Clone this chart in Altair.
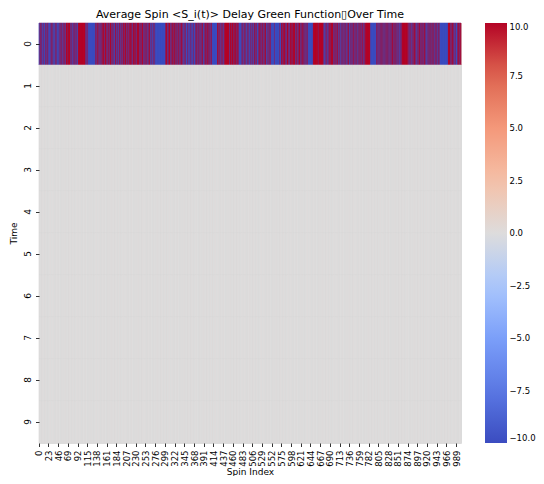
import altair as alt
import pandas as pd

title_text = "Average Spin <S_i(t)> Delay Green Function\u25afOver Time"

time_labels = [0, 1, 2, 3, 4, 5, 6, 7, 8, 9]

# Spin state at time 0, read (approximately) left to right: '+' = +10, '-' = -10
spin_row0_chunks = [
    "-+--+ -+--- +-+-- -+--+ +-+--",
    "--+-- +-+-- -+--+ -+-+- ---+-",
    "+-+-+ --+-+ -+--+ ++++- +++++",
    "-+-+- -+-++ -+-+- +--++ +++++",
    "+++++ +++++ +-+-+ -+--- -----",
    "----- ----+ -+-++ -+-+- +-++-",
    "++-++ +-+++ -++-+ +-+-+ ++-++",
    "-+-+- -++-- +-+-- ++-+- -+--+",
    "++-+- +++-+ +-+-+ +-++- ++-++",
    "+-+++ -+-++ +++-+ -+-+- +++-+",
    "-+-+- +-+-- +-++- -+-+- -+-+-",
    "+---- ----- ----- ----- -----",
    "+-+++ -++-+ ++-+- +++-+ -++-+",
    "-+-+- ++-+- -+-++ -+--+ -+-+-",
    "--+-- -+--- +--+- --+-- -+--+",
    "+-++- +-+-+ -+-++ --+-+ +-+-+",
    "+-+-+ -+-++ ----- ----- ---++",
    "-+-+- +--+- +-+-- +++++ +++++",
    "++-++ +-+++ ++-++ -+++- ++-+-",
    "----- -+-+- -+-++ -+--+ -+-+-",
    "--+-- +-+-- ++--+ -+--- +-++-",
    "+-+-+ +--+- +-++- -+-+- +-+-+",
    "----- ---+- ----- ----- -+---",
    "+++-+ +-+++ -+-++ ++-+- +++-+",
    "++-++ +++-+ -++-+ +-+++ -++-+",
    "+-+-+ -+-+- +-+-- ----- -----",
    "+++++ +++++ ++-++ +++++ +++++",
    "-+--- +-+-- +-+-+ ++-++ +++-+",
    "-+-+- +-++- -+-+- -+-++ -+-+-",
    "+-+-- +-+-+ +--+- +-+-+ -++-+",
    "-+-+- -+-+- +-+-+ -++-- +-+-+",
    "+++++ +++++ +---- ----- -----",
    "+-+-+ -+-+- +-+-+ -+-+- +-+-+",
    "-+-+- +-+-+ -+-++ -+-+- +-+-+",
    "-+-+- -+-+- +++++ +++++ +++++",
    "-+-+- -+--+ -+-+- ++-+- -+-+-",
    "+-++- +-+-+ --+-+ +-+-- +-++-",
    "-+-+- -+-+- +-+-- +-+-+ --+-+",
    "----- ----- ----- ----- +++++",
    "-+-+- ++-+- -+-+- --+-+ +-+-+",
]
spin_row0 = [10.0 if ch == "+" else -10.0
             for chunk in spin_row0_chunks for ch in chunk if ch in "+-"]
n_spins = len(spin_row0)

# Times 1..9: average spin reads as 0 everywhere
later_row_value = 0.0

x_tick_values = [0, 23, 46, 69, 92, 115, 138, 161, 184, 207, 230, 253, 276, 299,
                 322, 345, 368, 391, 414, 437, 460, 483, 506, 529, 552, 575, 598,
                 621, 644, 667, 690, 713, 736, 759, 782, 805, 828, 851, 874, 897,
                 920, 943, 966, 989]

cbar_ticks = [-10.0, -7.5, -5.0, -2.5, 0.0, 2.5, 5.0, 7.5, 10.0]
cmap_colors = ["#3b4cc0", "#5a78e4", "#7b9ff9", "#aac7fd", "#dddcdc",
               "#f5c0a7", "#f4987a", "#de654f", "#b40426"]

rows = []
for t in time_labels:
    for i in range(n_spins):
        v = spin_row0[i] if t == 0 else later_row_value
        # 'edge' = value in units of 10, used only to paint each cell's outline
        rows.append({"spin": i, "time": t, "value": v, "edge": v / 10.0})
df = pd.DataFrame(rows)

FONT = "DejaVu Sans"

cscale = alt.Scale(domain=cbar_ticks, range=cmap_colors, type="linear",
                   clamp=True, interpolate="rgb")
sscale = alt.Scale(domain=[c / 10.0 for c in cbar_ticks], range=cmap_colors,
                   type="linear", clamp=True, interpolate="rgb")

chart = alt.Chart(df).mark_rect(strokeWidth=0.6).encode(
    x=alt.X("spin:O", title="Spin Index", sort="ascending",
            scale=alt.Scale(paddingInner=0, paddingOuter=0),
            axis=alt.Axis(values=x_tick_values, labelAngle=270, labelAlign="right",
                          labelBaseline="middle", domain=False, grid=False,
                          tickSize=3.5, tickColor="#000000", tickWidth=0.8,
                          labelFont=FONT, labelFontSize=8.5, labelColor="#000000",
                          labelPadding=3.5, labelOverlap=False,
                          titleFont=FONT, titleFontSize=9, titleFontWeight="normal",
                          titleColor="#000000", titlePadding=1)),
    y=alt.Y("time:O", title="Time", sort="ascending",
            scale=alt.Scale(paddingInner=0, paddingOuter=0),
            axis=alt.Axis(labelAngle=270, labelAlign="center", labelBaseline="bottom",
                          domain=False, grid=False,
                          tickSize=3.5, tickColor="#000000", tickWidth=0.8,
                          labelFont=FONT, labelFontSize=9, labelColor="#000000",
                          labelPadding=3.5,
                          titleFont=FONT, titleFontSize=9, titleFontWeight="normal",
                          titleColor="#000000", titlePadding=5)),
    color=alt.Color("value:Q", scale=cscale,
                    legend=alt.Legend(type="gradient", title=None, orient="none",
                                      legendX=446, legendY=0,
                                      direction="vertical", gradientLength=420,
                                      gradientThickness=22, values=cbar_ticks,
                                      format=".1f", labelFont=FONT, labelFontSize=8.5,
                                      labelColor="#000000", labelOverlap=False,
                                      labelBaseline="middle", labelOffset=2.5,
                                      gradientStrokeWidth=0)),
    stroke=alt.Stroke("edge:Q", scale=sscale, legend=None),
).properties(
    width=422,
    height=420,
    title=alt.TitleParams(title_text, font=FONT, fontSize=11, fontWeight="normal",
                          color="#000000", anchor="middle", offset=3),
    padding={"left": 31, "top": 15, "right": 75, "bottom": 33},
    autosize=alt.AutoSizeParams(type="none"),
).configure_view(stroke=None).configure(background="white")

chart.save("out.html", embed_options={"renderer": "svg", "actions": False})
